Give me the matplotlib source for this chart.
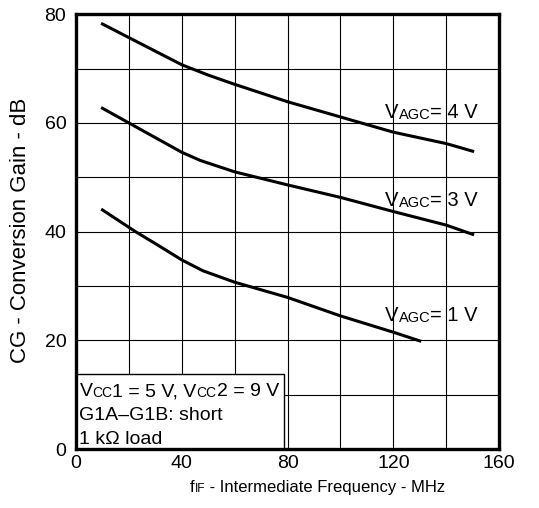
import matplotlib.pyplot as plt
from matplotlib.patches import Rectangle

plt.rcParams['font.family'] = ['Liberation Sans', 'DejaVu Sans']

# Conversion gain vs IF frequency
freq_4v = [10, 20, 40, 50, 60, 80, 100, 120, 140, 150]
gain_4v = [78.2, 75.7, 70.7, 68.8, 67.1, 63.9, 61.1, 58.3, 56.2, 54.8]

freq_3v = [10, 20, 40, 47, 60, 80, 100, 120, 140, 150]
gain_3v = [62.7, 60.0, 54.6, 53.1, 51.0, 48.6, 46.3, 43.7, 41.2, 39.5]

freq_1v = [10, 22.5, 30, 40, 48, 60, 80, 100, 120, 130]
gain_1v = [44.0, 40.0, 37.8, 34.8, 32.8, 30.7, 27.9, 24.5, 21.5, 19.9]

curve_labels = ['4 V', '3 V', '1 V']
label_pos_y = [60.9, 44.7, 23.6]

x_ticks = [0, 40, 80, 120, 160]
y_ticks = [0, 20, 40, 60, 80]

BIG = 14
SMALL = 10


def rich_text(first, parts):
    # chain text pieces left to right; small pieces act as "subscripts"
    prev = first
    for s, fs in parts:
        prev = ax.annotate(s, xy=(1, 0), xycoords=prev, fontsize=fs,
                           ha='left', va='bottom', annotation_clip=False)
    return prev


fig = plt.figure(figsize=(5.39, 5.08), dpi=100)
ax = fig.add_axes([0.141, 0.116, 0.785, 0.856])

ax.plot(freq_4v, gain_4v, color='black', lw=2.2, zorder=3)
ax.plot(freq_3v, gain_3v, color='black', lw=2.2, zorder=3)
ax.plot(freq_1v, gain_1v, color='black', lw=2.2, zorder=3)

ax.set_xlim(0, 160)
ax.set_ylim(0, 80)
ax.set_xticks(x_ticks)
ax.set_yticks(y_ticks)
ax.set_xticks(range(0, 161, 20), minor=True)
ax.set_yticks(range(0, 81, 10), minor=True)
ax.grid(True, which='both', color='black', lw=0.8)
ax.set_axisbelow(True)
ax.tick_params(which='both', length=0, labelsize=14)
ax.tick_params(axis='x', pad=4)
ax.tick_params(axis='y', pad=7)
for sp in ax.spines.values():
    sp.set_linewidth(2.4)
    sp.set_zorder(5)

for lab, yy in zip(curve_labels, label_pos_y):
    t = ax.text(116.9, yy, 'V', fontsize=14.5, va='baseline', ha='left', zorder=4)
    rich_text(t, [('AGC', 10.5), ('= ' + lab, 14.5)])

# condition box
ax.add_patch(Rectangle((0, 0), 78.6, 13.8, facecolor='white',
                       edgecolor='black', lw=1, zorder=2))
t = ax.text(1.3, 9.7, 'V', fontsize=BIG, va='baseline', zorder=4)
rich_text(t, [('CC', SMALL), ('1 = 5 V, V', BIG), ('CC', SMALL), ('2 = 9 V', BIG)])
ax.text(1.3, 5.3, 'G1A\u2013G1B: short', fontsize=BIG, va='baseline', zorder=4)
ax.text(1.3, 0.9, '1 k\u03a9 load', fontsize=BIG, va='baseline', zorder=4)

# axis labels
t = ax.text(43.1, -7.9, 'f', fontsize=12, va='baseline', clip_on=False)
rich_text(t, [('IF', 8.5), (' - Intermediate Frequency - MHz', 12)])
fig.text(20.5 / 539, 1 - 230 / 508, 'CG - Conversion Gain - dB',
         rotation=90, fontsize=16, ha='center', va='center')

fig.savefig('out.png', dpi=100)
